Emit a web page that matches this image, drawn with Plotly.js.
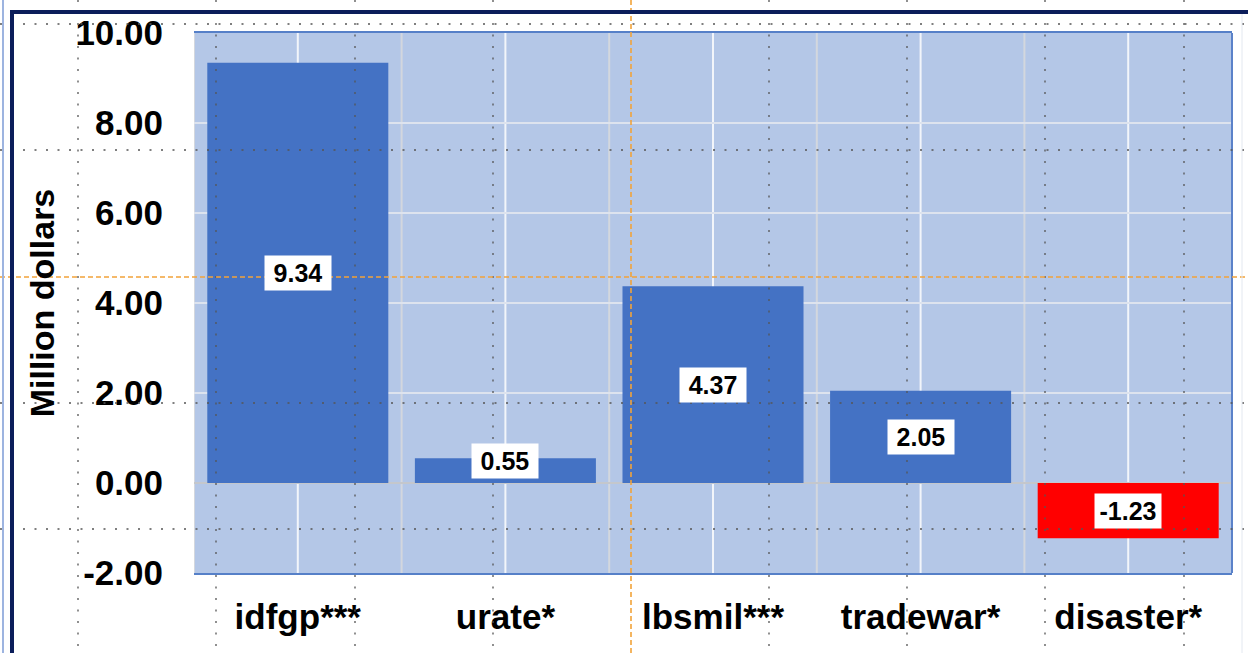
<!DOCTYPE html>
<html>
<head>
<meta charset="utf-8">
<script src="https://cdn.plot.ly/plotly-3.0.1.min.js"></script>
<style>
  html, body { margin: 0; padding: 0; background: #ffffff; }
  #chart { width: 1248px; height: 653px; }
</style>
</head>
<body>
<div id="chart"></div>
<script>
// ---- data ----
const categories = ["idfgp***", "urate*", "lbsmil***", "tradewar*", "disaster*"];
const values = [9.34, 0.55, 4.37, 2.05, -1.23];
const valueLabels = ["9.34", "0.55", "4.37", "2.05", "-1.23"];
const yTickValues = [-2, 0, 2, 4, 6, 8, 10];
const yTickLabels = ["-2.00", "0.00", "2.00", "4.00", "6.00", "8.00", "10.00"];

// ---- styling ----
const FONT = "Arial, 'Liberation Sans', sans-serif";
const POS_COLOR = "#4472c4";
const NEG_COLOR = "#ff0000";
const W = 1248, H = 653;
const M = { l: 194, r: 16, t: 33, b: 80 };
const PW = W - M.l - M.r, PH = H - M.t - M.b;
const px = x => (x - M.l) / PW;           // pixel -> paper x
const py = y => (H - M.b - y) / PH;       // pixel -> paper y

const barColors = values.map(v => v < 0 ? NEG_COLOR : POS_COLOR);

const trace = {
  type: "bar",
  x: categories,
  y: values,
  marker: { color: barColors, line: { width: 0 } },
  hoverinfo: "x+y"
};

const annotations = categories.map((c, i) => {
  const v = values[i];
  const yPos = Math.sign(v) * Math.max(Math.abs(v) / 2, 0.5);
  return {
    x: c, y: yPos, xref: "x", yref: "y",
    text: "<b>" + valueLabels[i] + "</b>",
    showarrow: false,
    font: { family: FONT, size: 25, color: "#000000" },
    bgcolor: "#ffffff",
    borderpad: 3,
    width: 60,
    height: 28
  };
});

const shapes = [];
// vertical in-plot gridlines: boundaries (grey) and centres (white)
categories.forEach((c, i) => {
  shapes.push({ type: "line", layer: "between", xref: "x", yref: "paper",
    x0: i - 0.5, x1: i - 0.5, y0: 0, y1: 1, line: { color: "#d3d7de", width: 2 } });
  shapes.push({ type: "line", layer: "between", xref: "x", yref: "paper",
    x0: i, x1: i, y0: 0, y1: 1, line: { color: "#f2f5fa", width: 2 } });
});
// right border of plot area
shapes.push({ type: "line", layer: "above", xref: "paper", yref: "paper",
  x0: 1, x1: 1, y0: 0, y1: 1, line: { color: "#5b82c9", width: 2 } });

// screen guides (dotted grid + orange crosshair) and slide frame
const guideV = [78, 216, 355, 493, 769, 907, 1045, 1184];
const guideH = [24, 150, 403, 529];
const crossV = 631, crossH = 277;
const dotLine = { color: "#555555", width: 1.3, dash: "2px,9.5px" };
guideV.forEach(x => shapes.push({ type: "line", layer: "above", xref: "paper", yref: "paper",
  x0: px(x), x1: px(x), y0: py(0), y1: py(H), line: dotLine }));
guideH.forEach(y => shapes.push({ type: "line", layer: "above", xref: "paper", yref: "paper",
  x0: px(0), x1: px(W), y0: py(y), y1: py(y), line: dotLine }));
const orange = { color: "#f2a33a", width: 1.6, dash: "5px,3px" };
shapes.push({ type: "line", layer: "above", xref: "paper", yref: "paper",
  x0: px(crossV), x1: px(crossV), y0: py(0), y1: py(H), line: orange });
shapes.push({ type: "line", layer: "above", xref: "paper", yref: "paper",
  x0: px(0), x1: px(W), y0: py(crossH), y1: py(crossH), line: orange });
// frame
shapes.push({ type: "line", layer: "above", xref: "paper", yref: "paper",
  x0: px(3), x1: px(3), y0: py(0), y1: py(H), line: { color: "#9db4e0", width: 2 } });
shapes.push({ type: "line", layer: "above", xref: "paper", yref: "paper",
  x0: px(10), x1: px(W), y0: py(12), y1: py(12), line: { color: "#0b1d5a", width: 4 } });
shapes.push({ type: "line", layer: "above", xref: "paper", yref: "paper",
  x0: px(12), x1: px(12), y0: py(10), y1: py(H), line: { color: "#0b1d5a", width: 4 } });
shapes.push({ type: "line", layer: "above", xref: "paper", yref: "paper",
  x0: px(1242), x1: px(1242), y0: py(14), y1: py(H), line: { color: "#e3e8f0", width: 1 } });

const layout = {
  width: W, height: H,
  margin: M,
  paper_bgcolor: "#ffffff",
  plot_bgcolor: "#b4c7e7",
  showlegend: false,
  bargap: 0.128,
  font: { family: FONT, color: "#000000" },
  xaxis: {
    type: "category",
    categoryarray: categories,
    range: [-0.5, categories.length - 0.5],
    showgrid: false,
    showline: true, mirror: true,
    linecolor: "#5680c8", linewidth: 2,
    ticks: "", ticklabelstandoff: 12,
    tickfont: { family: FONT, size: 35, color: "#000000", weight: "bold" },
    fixedrange: true
  },
  yaxis: {
    range: [-2, 10],
    tickvals: yTickValues,
    ticktext: yTickLabels,
    showgrid: true, gridcolor: "#dde3ee", gridwidth: 1.5,
    zeroline: true, zerolinecolor: "#c4c7cc", zerolinewidth: 2,
    showline: false,
    ticks: "", ticklabelstandoff: 30,
    tickfont: { family: FONT, size: 35, color: "#000000", weight: "bold" },
    title: { text: "<b>Million dollars</b>", font: { family: FONT, size: 34, color: "#000000" }, standoff: 10 },
    fixedrange: true
  },
  annotations: annotations,
  shapes: shapes
};

Plotly.newPlot("chart", [trace], layout, { displayModeBar: false, staticPlot: true });
</script>
</body>
</html>
